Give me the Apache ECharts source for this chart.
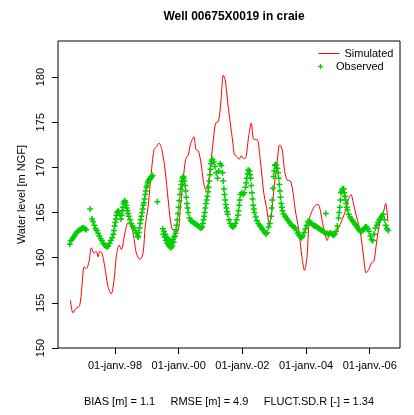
<!DOCTYPE html>
<html>
<head>
<meta charset="utf-8">
<script src="https://cdn.jsdelivr.net/npm/echarts@6/dist/echarts.min.js"></script>
<style>
  html, body { margin: 0; padding: 0; background: #fff; }
  #chart { width: 414px; height: 415px; }
</style>
</head>
<body>
<div id="chart"></div>
<script>
// time in decimal years, levels in m NGF
const simulated = [
  [1996.60, 155.3], [1996.68, 153.9], [1996.78, 154.4], [1996.89, 154.7], [1996.96, 156.8],
  [1997.03, 159.0], [1997.10, 158.8], [1997.18, 159.5], [1997.26, 161.1], [1997.34, 160.5],
  [1997.41, 160.7], [1997.47, 160.1], [1997.52, 160.7], [1997.59, 160.5], [1997.68, 159.0],
  [1997.78, 156.8], [1997.88, 156.0], [1997.97, 157.5], [1998.04, 160.1], [1998.13, 161.4],
  [1998.20, 160.9], [1998.30, 162.5], [1998.41, 163.9], [1998.49, 163.6], [1998.58, 162.5],
  [1998.67, 160.5], [1998.78, 159.8], [1998.88, 160.5], [1998.95, 163.5], [1999.04, 165.7],
  [1999.10, 167.9], [1999.17, 170.5], [1999.23, 172.0], [1999.31, 172.3], [1999.38, 172.7],
  [1999.47, 172.0], [1999.57, 169.8], [1999.67, 166.4], [1999.78, 163.3], [1999.88, 162.9],
  [1999.97, 162.9], [2000.04, 165.1], [2000.14, 168.6], [2000.22, 170.9], [2000.30, 171.4],
  [2000.38, 172.7], [2000.48, 173.4], [2000.54, 172.0], [2000.62, 171.8], [2000.70, 170.5],
  [2000.77, 168.6], [2000.85, 167.5], [2000.93, 168.3], [2001.01, 170.5], [2001.09, 173.1],
  [2001.16, 174.9], [2001.25, 175.1], [2001.33, 177.5], [2001.40, 180.2], [2001.46, 179.7],
  [2001.54, 177.2], [2001.62, 174.9], [2001.70, 172.8], [2001.75, 171.4], [2001.83, 171.2],
  [2001.90, 170.9], [2001.96, 171.3], [2002.03, 171.0], [2002.09, 171.0], [2002.20, 173.5],
  [2002.28, 174.9], [2002.36, 173.1], [2002.46, 173.1], [2002.56, 170.9], [2002.67, 167.2],
  [2002.75, 165.7], [2002.85, 163.8], [2002.91, 164.6], [2002.98, 167.2], [2003.09, 170.5],
  [2003.17, 172.5], [2003.25, 172.0], [2003.32, 169.8], [2003.40, 168.6], [2003.51, 168.5],
  [2003.59, 167.2], [2003.66, 165.3], [2003.77, 163.1], [2003.87, 160.1], [2003.95, 158.6],
  [2004.03, 160.1], [2004.10, 164.2], [2004.19, 165.2], [2004.29, 165.8], [2004.38, 165.9],
  [2004.45, 165.2], [2004.52, 163.8], [2004.60, 162.6], [2004.66, 161.9], [2004.75, 162.6],
  [2004.85, 162.5], [2004.96, 162.9], [2005.07, 163.7], [2005.22, 165.0], [2005.32, 166.4],
  [2005.41, 167.0], [2005.48, 166.1], [2005.58, 164.6], [2005.69, 163.1], [2005.79, 160.6],
  [2005.89, 158.3], [2005.97, 158.7], [2006.05, 159.4], [2006.13, 159.6], [2006.21, 161.6],
  [2006.31, 163.8], [2006.42, 164.9], [2006.50, 166.0], [2006.57, 164.0]
];

const observed = [
  [1996.58, 161.5], [1996.62, 161.9], [1996.66, 162.1], [1996.70, 162.3], [1996.74, 162.5],
  [1996.78, 162.7], [1996.82, 162.9], [1996.86, 163.0], [1996.90, 163.1], [1996.94, 163.2],
  [1996.98, 163.3], [1997.02, 163.3], [1997.06, 163.2], [1997.10, 163.1],
  [1997.22, 165.4],
  [1997.28, 164.3], [1997.31, 164.0], [1997.35, 163.6], [1997.39, 163.2], [1997.43, 163.0],
  [1997.47, 162.7], [1997.51, 162.4], [1997.55, 162.1], [1997.59, 161.9], [1997.63, 161.6],
  [1997.67, 161.4], [1997.71, 161.3], [1997.75, 161.2], [1997.79, 161.3], [1997.83, 161.6],
  [1997.87, 161.9], [1997.91, 162.2], [1997.95, 162.6], [1997.97, 163.0], [1997.99, 163.5],
  [1998.01, 163.9], [1998.03, 164.3], [1998.05, 164.7], [1998.07, 165.0], [1998.09, 165.1],
  [1998.11, 165.2], [1998.15, 164.8], [1998.19, 164.3], [1998.21, 164.7], [1998.23, 165.2],
  [1998.25, 165.6], [1998.27, 166.0], [1998.29, 166.2], [1998.31, 166.3], [1998.33, 166.1],
  [1998.35, 165.8], [1998.37, 165.5], [1998.39, 165.2], [1998.41, 164.9], [1998.43, 164.6],
  [1998.47, 164.2], [1998.51, 163.8], [1998.55, 163.5], [1998.59, 163.3], [1998.63, 163.0],
  [1998.67, 162.7], [1998.71, 162.4], [1998.73, 162.3], [1998.75, 162.8], [1998.77, 163.3],
  [1998.79, 163.8], [1998.81, 164.2], [1998.83, 164.6], [1998.85, 165.0], [1998.87, 165.4],
  [1998.89, 165.8], [1998.91, 166.1], [1998.93, 166.5], [1998.95, 167.0], [1998.97, 167.4],
  [1998.99, 167.8], [1999.01, 168.0], [1999.03, 168.3], [1999.05, 168.5], [1999.07, 168.6],
  [1999.09, 168.7], [1999.11, 168.8], [1999.13, 168.9], [1999.15, 169.0], [1999.18, 169.1],
  [1999.33, 166.2],
  [1999.50, 163.2], [1999.52, 162.6], [1999.54, 162.9], [1999.56, 162.3], [1999.58, 162.6],
  [1999.60, 161.9], [1999.62, 162.3], [1999.64, 161.6], [1999.66, 162.1], [1999.68, 161.4],
  [1999.70, 161.9], [1999.72, 161.2], [1999.74, 161.8], [1999.76, 161.1], [1999.78, 161.8],
  [1999.80, 161.3], [1999.82, 162.0], [1999.84, 161.7], [1999.86, 162.3], [1999.88, 162.4],
  [1999.90, 162.7], [1999.92, 163.1], [1999.94, 163.6], [1999.96, 164.2], [1999.98, 164.9],
  [2000.00, 165.6], [2000.02, 166.3], [2000.04, 167.0], [2000.06, 167.6], [2000.08, 168.1],
  [2000.10, 168.5], [2000.12, 168.8], [2000.14, 169.0], [2000.16, 168.8], [2000.18, 168.5],
  [2000.20, 168.0], [2000.22, 167.4], [2000.24, 166.7], [2000.26, 166.0], [2000.28, 165.5],
  [2000.30, 165.0], [2000.34, 164.4], [2000.38, 164.1], [2000.42, 164.0], [2000.46, 163.9],
  [2000.50, 163.8], [2000.54, 163.7], [2000.58, 163.6], [2000.62, 163.5], [2000.66, 163.4],
  [2000.70, 163.3], [2000.74, 163.4], [2000.76, 163.8], [2000.78, 164.2], [2000.80, 164.6],
  [2000.82, 165.0], [2000.84, 165.5], [2000.86, 166.0], [2000.88, 166.4], [2000.90, 166.8],
  [2000.92, 167.3], [2000.94, 167.8], [2000.96, 168.5], [2000.98, 169.2], [2001.00, 169.8],
  [2001.02, 170.4], [2001.04, 170.7], [2001.06, 170.9], [2001.10, 170.6], [2001.14, 170.1],
  [2001.18, 169.4], [2001.22, 168.8], [2001.26, 169.6], [2001.30, 170.4], [2001.34, 170.2],
  [2001.38, 169.4], [2001.40, 168.5], [2001.42, 167.6], [2001.44, 167.0], [2001.46, 166.4],
  [2001.48, 165.9], [2001.50, 165.5], [2001.52, 165.1], [2001.54, 164.8], [2001.58, 164.2],
  [2001.62, 163.8], [2001.66, 163.5], [2001.70, 163.4], [2001.74, 163.5], [2001.78, 163.8],
  [2001.82, 164.2], [2001.86, 164.7], [2001.88, 165.2], [2001.90, 165.8], [2001.92, 166.4],
  [2001.94, 167.0], [2001.98, 167.2], [2002.02, 167.0], [2002.06, 167.2], [2002.10, 167.8],
  [2002.12, 168.3], [2002.14, 168.8], [2002.16, 169.3], [2002.18, 169.7], [2002.22, 169.6],
  [2002.24, 169.2], [2002.26, 168.8], [2002.28, 168.0], [2002.30, 167.2], [2002.32, 166.5],
  [2002.34, 165.8], [2002.36, 165.4], [2002.38, 165.0], [2002.42, 164.5], [2002.46, 164.1],
  [2002.50, 163.8], [2002.54, 163.6], [2002.58, 163.4], [2002.62, 163.2], [2002.66, 163.0],
  [2002.70, 162.8], [2002.74, 162.6], [2002.78, 162.8], [2002.82, 163.4], [2002.86, 163.8],
  [2002.90, 164.6], [2002.92, 165.5], [2002.94, 166.4], [2002.96, 167.7], [2002.98, 169.0],
  [2003.00, 169.6], [2003.02, 170.2], [2003.04, 170.3], [2003.06, 170.3], [2003.10, 169.9],
  [2003.12, 169.4], [2003.14, 168.8], [2003.16, 168.1], [2003.18, 167.4], [2003.20, 166.7],
  [2003.22, 166.0], [2003.24, 165.6], [2003.26, 165.2], [2003.30, 164.8], [2003.34, 164.6],
  [2003.38, 164.4], [2003.42, 164.2], [2003.46, 164.0], [2003.50, 163.8], [2003.54, 163.6],
  [2003.58, 163.5], [2003.62, 163.4], [2003.66, 163.3], [2003.70, 163.0], [2003.74, 162.7],
  [2003.78, 162.5], [2003.82, 162.3], [2003.86, 162.2], [2003.90, 162.4], [2003.94, 162.8],
  [2003.98, 163.2], [2004.02, 163.6], [2004.06, 164.0], [2004.10, 164.0], [2004.14, 163.9],
  [2004.18, 163.8], [2004.22, 163.6], [2004.26, 163.5], [2004.30, 163.5], [2004.34, 163.4],
  [2004.38, 163.3], [2004.42, 163.2], [2004.46, 163.1], [2004.50, 163.0], [2004.54, 162.9],
  [2004.58, 162.8], [2004.62, 164.9], [2004.66, 162.7], [2004.70, 162.6], [2004.74, 162.7],
  [2004.78, 162.7], [2004.82, 162.6], [2004.86, 162.5], [2004.90, 162.6], [2004.94, 162.9],
  [2004.98, 163.5], [2005.02, 164.4], [2005.04, 165.0], [2005.06, 165.6], [2005.08, 166.4],
  [2005.10, 167.2], [2005.12, 167.4], [2005.14, 167.6], [2005.18, 167.6], [2005.20, 167.2],
  [2005.22, 166.8], [2005.24, 166.4], [2005.26, 166.0], [2005.28, 165.6], [2005.30, 165.3],
  [2005.34, 164.8], [2005.38, 164.5], [2005.42, 164.3], [2005.46, 164.1], [2005.50, 163.9],
  [2005.54, 163.7], [2005.58, 163.5], [2005.62, 163.3], [2005.66, 163.1], [2005.70, 162.9],
  [2005.74, 162.9], [2005.78, 163.0], [2005.82, 163.2], [2005.86, 163.4], [2005.90, 163.4],
  [2005.94, 163.2], [2005.98, 162.9], [2006.02, 162.4], [2006.06, 162.0], [2006.10, 161.9],
  [2006.14, 162.6], [2006.18, 163.3], [2006.22, 163.6], [2006.26, 163.9], [2006.30, 164.2],
  [2006.34, 164.4], [2006.38, 164.6], [2006.42, 164.8], [2006.46, 164.2], [2006.50, 163.6],
  [2006.54, 163.2], [2006.58, 163.0]
];

const xTicks = [1998, 2000, 2002, 2004, 2006];
const xTickLabels = ['01-janv.-98', '01-janv.-00', '01-janv.-02', '01-janv.-04', '01-janv.-06'];
const yTicks = [150, 155, 160, 165, 170, 175, 180];
const stats = 'BIAS [m] = 1.1     RMSE [m] = 4.9     FLUCT.SD.R [-] = 1.34';

const plusPath = 'path://M3,0H5V3H8V5H5V8H3V5H0V3H3Z';
const font = 'Liberation Sans';
const legendText = { fontFamily: font, fontSize: 11, color: '#000' };

const chart = echarts.init(document.getElementById('chart'));
chart.setOption({
  animation: false,
  backgroundColor: '#fff',
  textStyle: { fontFamily: font },
  title: {
    text: 'Well 00675X0019 in craie',
    left: 229, top: 6, textAlign: 'center',
    textStyle: { fontFamily: font, fontSize: 12, fontWeight: 'bold', color: '#000' }
  },
  legend: [
    {
      left: 313, top: 43, itemWidth: 21, itemHeight: 6,
      textStyle: legendText,
      data: [{
        name: 'Simulated',
        itemStyle: { opacity: 0 },
        lineStyle: { color: '#ff0000', width: 1, opacity: 1 }
      }],
      lineStyle: { color: '#ff0000', width: 1 }
    },
    {
      left: 313, top: 56, itemWidth: 21, itemHeight: 5,
      textStyle: legendText,
      data: [{ name: 'Observed', icon: plusPath, itemStyle: { color: '#00cd00' } }]
    }
  ],
  grid: {
    left: 58, right: 14, top: 41, bottom: 67,
    show: true, borderColor: '#000', borderWidth: 1
  },
  xAxis: {
    type: 'value', min: 1996.21, max: 2006.95,
    name: stats, nameLocation: 'middle', nameGap: 48,
    nameTextStyle: { fontFamily: font, fontSize: 11, color: '#000' },
    axisLine: { show: false },
    splitLine: { show: false },
    axisTick: { show: true, length: 6, lineStyle: { color: '#000' }, customValues: xTicks },
    axisLabel: {
      fontFamily: font, fontSize: 11, color: '#000', margin: 12,
      customValues: xTicks,
      formatter: v => xTickLabels[xTicks.indexOf(Math.round(v))]
    }
  },
  yAxis: {
    type: 'value', min: 150, max: 184,
    name: 'Water level [m NGF]', nameLocation: 'middle', nameGap: 28,
    nameTextStyle: { fontFamily: font, fontSize: 11, color: '#000' },
    axisLine: { show: false },
    splitLine: { show: false },
    axisTick: { show: true, length: 6, lineStyle: { color: '#000' }, customValues: yTicks },
    axisLabel: {
      fontFamily: font, fontSize: 11, color: '#000', margin: 12, rotate: 90,
      customValues: yTicks
    }
  },
  series: [
    {
      name: 'Simulated', type: 'line', data: simulated,
      showSymbol: false, symbol: 'none', smooth: 0.3,
      itemStyle: { color: '#ff0000' },
      lineStyle: { color: '#ff0000', width: 1 }, z: 2
    },
    {
      name: 'Observed', type: 'scatter', data: observed,
      symbol: plusPath, symbolSize: 6,
      itemStyle: { color: '#00cd00', opacity: 1 }, z: 3
    }
  ]
});
</script>
</body>
</html>
